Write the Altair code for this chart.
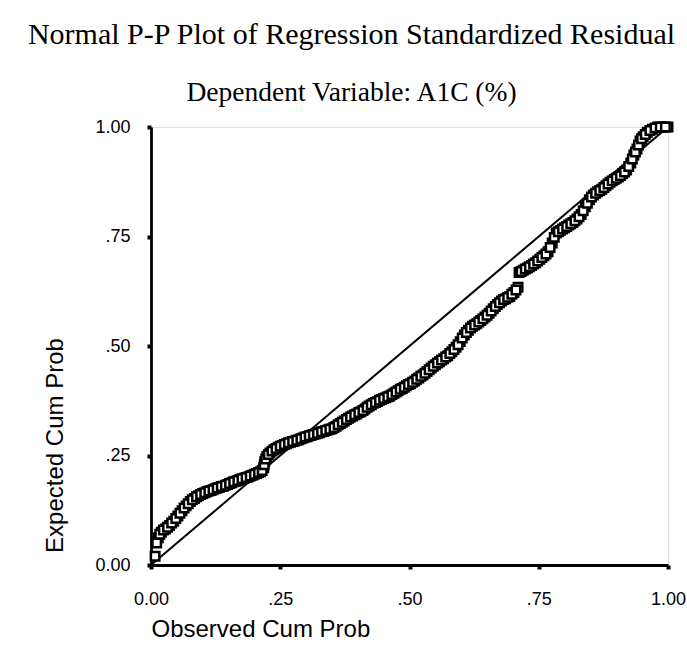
import altair as alt
import pandas as pd

# Observed cumulative probability (x) and expected cumulative probability (y)
observed = [
    0.008, 0.014, 0.020, 0.028, 0.036, 0.044, 0.052, 0.060, 0.068, 0.076,
    0.084, 0.092, 0.100, 0.108, 0.116, 0.124, 0.132, 0.140, 0.148, 0.156,
    0.164, 0.172, 0.180, 0.188, 0.196, 0.204, 0.212, 0.218, 0.220, 0.224,
    0.230, 0.238, 0.246, 0.254, 0.262, 0.270, 0.278, 0.286, 0.294, 0.302,
    0.310, 0.318, 0.326, 0.334, 0.342, 0.350, 0.358, 0.366, 0.374, 0.382,
    0.390, 0.398, 0.406, 0.414, 0.422, 0.430, 0.438, 0.446, 0.454, 0.462,
    0.470, 0.478, 0.486, 0.494, 0.502, 0.510, 0.518, 0.526, 0.534, 0.542,
    0.550, 0.558, 0.566, 0.574, 0.582, 0.590, 0.598, 0.606, 0.614, 0.622,
    0.630, 0.638, 0.646, 0.654, 0.662, 0.670, 0.678, 0.686, 0.694, 0.702,
    0.710, 0.712, 0.720, 0.728, 0.736, 0.744, 0.752, 0.760, 0.768, 0.776,
    0.784, 0.792, 0.800, 0.808, 0.816, 0.824, 0.832, 0.840, 0.848, 0.856,
    0.864, 0.872, 0.880, 0.888, 0.896, 0.904, 0.912, 0.920, 0.928, 0.934,
    0.940, 0.946, 0.952, 0.960, 0.970, 0.980, 0.990, 1.000,
]
expected = [
    0.020, 0.062, 0.075, 0.082, 0.090, 0.100, 0.112, 0.124, 0.135, 0.145,
    0.152, 0.158, 0.163, 0.167, 0.170, 0.174, 0.177, 0.180, 0.184, 0.188,
    0.191, 0.195, 0.198, 0.201, 0.205, 0.209, 0.213, 0.222, 0.236, 0.248,
    0.256, 0.263, 0.269, 0.273, 0.277, 0.280, 0.283, 0.286, 0.290, 0.293,
    0.296, 0.299, 0.302, 0.305, 0.308, 0.311, 0.317, 0.323, 0.329, 0.335,
    0.340, 0.345, 0.350, 0.356, 0.363, 0.369, 0.373, 0.378, 0.382, 0.386,
    0.392, 0.398, 0.403, 0.409, 0.414, 0.420, 0.427, 0.434, 0.442, 0.450,
    0.457, 0.464, 0.471, 0.478, 0.487, 0.497, 0.510, 0.525, 0.536, 0.545,
    0.551, 0.558, 0.566, 0.575, 0.585, 0.595, 0.603, 0.608, 0.613, 0.622,
    0.634, 0.668, 0.673, 0.678, 0.684, 0.690, 0.698, 0.706, 0.715, 0.735,
    0.758, 0.764, 0.770, 0.776, 0.782, 0.790, 0.800, 0.818, 0.834, 0.845,
    0.852, 0.858, 0.866, 0.874, 0.880, 0.886, 0.893, 0.902, 0.918, 0.936,
    0.950, 0.968, 0.978, 0.988, 0.995, 1.000, 1.000, 1.000,
]
# second group of cases read between the first ones (the band is dense)
observed_b = [
    0.011, 0.017, 0.024, 0.032, 0.040, 0.048, 0.056, 0.064, 0.072, 0.080,
    0.088, 0.096, 0.104, 0.112, 0.120, 0.128, 0.136, 0.144, 0.152, 0.160,
    0.168, 0.176, 0.184, 0.192, 0.200, 0.208, 0.215, 0.219, 0.222, 0.227,
    0.234, 0.242, 0.250, 0.258, 0.266, 0.274, 0.282, 0.290, 0.298, 0.306,
    0.314, 0.322, 0.330, 0.338, 0.346, 0.354, 0.362, 0.370, 0.378, 0.386,
    0.394, 0.402, 0.410, 0.418, 0.426, 0.434, 0.442, 0.450, 0.458, 0.466,
    0.474, 0.482, 0.490, 0.498, 0.506, 0.514, 0.522, 0.530, 0.538, 0.546,
    0.554, 0.562, 0.570, 0.578, 0.586, 0.594, 0.602, 0.610, 0.618, 0.626,
    0.634, 0.642, 0.650, 0.658, 0.666, 0.674, 0.682, 0.690, 0.698, 0.706,
    0.716, 0.724, 0.732, 0.740, 0.748, 0.756, 0.764, 0.772, 0.780, 0.788,
    0.796, 0.804, 0.812, 0.820, 0.828, 0.836, 0.844, 0.852, 0.860, 0.868,
    0.876, 0.884, 0.892, 0.900, 0.908, 0.916, 0.924, 0.931, 0.937, 0.943,
    0.949, 0.956, 0.965, 0.975, 0.985, 0.995,
]
expected_b = [
    0.050, 0.070, 0.080, 0.086, 0.096, 0.106, 0.118, 0.130, 0.140, 0.149,
    0.156, 0.161, 0.165, 0.169, 0.172, 0.176, 0.179, 0.182, 0.186, 0.190,
    0.193, 0.197, 0.200, 0.203, 0.207, 0.211, 0.216, 0.229, 0.242, 0.252,
    0.260, 0.266, 0.271, 0.275, 0.279, 0.282, 0.285, 0.288, 0.292, 0.295,
    0.298, 0.301, 0.304, 0.307, 0.310, 0.314, 0.320, 0.326, 0.332, 0.338,
    0.343, 0.348, 0.353, 0.360, 0.366, 0.371, 0.376, 0.380, 0.384, 0.389,
    0.395, 0.401, 0.406, 0.412, 0.417, 0.424, 0.431, 0.438, 0.446, 0.454,
    0.461, 0.468, 0.475, 0.483, 0.492, 0.503, 0.518, 0.531, 0.541, 0.548,
    0.555, 0.562, 0.570, 0.580, 0.590, 0.599, 0.606, 0.611, 0.618, 0.628,
    0.670, 0.676, 0.681, 0.687, 0.694, 0.702, 0.710, 0.725, 0.748, 0.761,
    0.767, 0.773, 0.779, 0.786, 0.795, 0.809, 0.826, 0.840, 0.849, 0.855,
    0.862, 0.870, 0.877, 0.883, 0.889, 0.897, 0.910, 0.927, 0.943, 0.959,
    0.973, 0.983, 0.992, 0.998, 1.000, 1.000,
]
diag_x = [0.0, 1.0]
diag_y = [0.0, 1.0]
tick_values = [0.0, 0.25, 0.5, 0.75, 1.0]

points = pd.DataFrame({"obs": observed + observed_b,
                       "exp": expected + expected_b})
diag = pd.DataFrame({"obs": diag_x, "exp": diag_y})

label_expr = ("datum.value == 0 ? '0.00' : (datum.value == 1 ? '1.00' : "
              "substring(format(datum.value, '.2f'), 1))")

x_enc = alt.X(
    "obs:Q",
    scale=alt.Scale(domain=[0, 1], nice=False, zero=False),
    axis=alt.Axis(
        values=tick_values, labelExpr=label_expr, title="Observed Cum Prob",
        grid=False, domainColor="black", domainWidth=2.8,
        tickColor="black", tickSize=4, tickWidth=4,
        labelFont="Liberation Sans", labelFontSize=18, labelColor="black",
        labelPadding=21, labelFlush=False,
        titleFont="Liberation Sans", titleFontSize=24, titleFontWeight="normal",
        titleColor="black", titleAnchor="start", titleAlign="left",
        titleX=0, titleY=71, titleBaseline="alphabetic",
    ),
)
y_enc = alt.Y(
    "exp:Q",
    scale=alt.Scale(domain=[0, 1], nice=False, zero=False),
    axis=alt.Axis(
        values=tick_values, labelExpr=label_expr, title="Expected Cum Prob",
        grid=False, domainColor="black", domainWidth=2.8,
        tickColor="black", tickSize=4, tickWidth=4,
        labelFont="Liberation Sans", labelFontSize=18, labelColor="black",
        labelPadding=17, labelFlush=False,
        titleFont="Liberation Sans", titleFontSize=24, titleFontWeight="normal",
        titleColor="black", titleAngle=270, titleAlign="center",
        titleBaseline="middle", titleX=-96, titleY=318,
    ),
)

line = alt.Chart(diag).mark_line(color="black", strokeWidth=2).encode(
    x=x_enc, y=y_enc
)
squares = alt.Chart(points).mark_square(
    fill="white", stroke="black", strokeWidth=2.5, size=72, opacity=1
).encode(x="obs:Q", y="exp:Q")

chart = alt.layer(line, squares).properties(
    width=517,
    height=438,
    autosize=alt.AutoSizeParams(type="none"),
    padding={"left": 151, "top": 127, "right": 19, "bottom": 95},
    title=alt.TitleParams(
        text="Normal P-P Plot of Regression Standardized Residual",
        subtitle="Dependent Variable: A1C (%)",
        font="Liberation Serif", fontSize=30, fontWeight="normal", color="black",
        subtitleFont="Liberation Serif", subtitleFontSize=27.5,
        subtitleColor="black", subtitlePadding=29,
        anchor="middle", dx=-58, offset=11,
    ),
).configure_view(
    stroke="black", strokeWidth=2.8
).configure(background="white")

chart.save("out.html", embed_options={"renderer": "svg", "actions": False})
